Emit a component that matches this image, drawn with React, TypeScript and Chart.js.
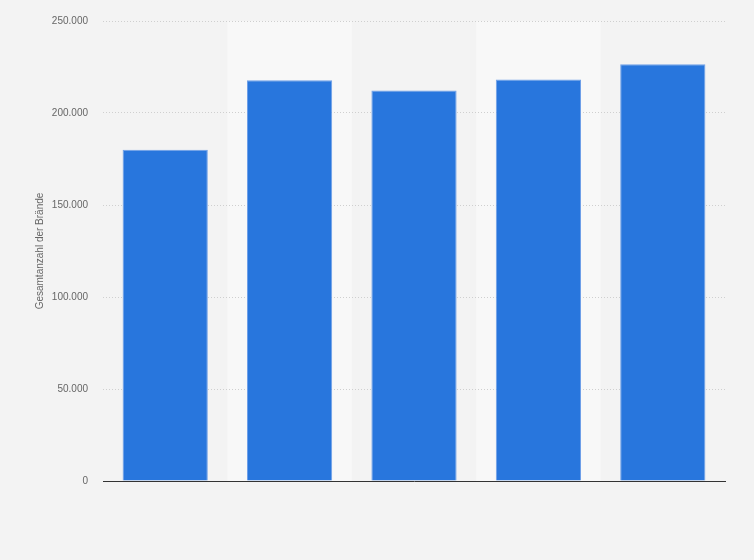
import { useEffect, useRef } from 'react'
import { Chart, registerables } from 'chart.js'

Chart.register(...registerables)

const categories = ['2017', '2018', '2019', '2020', '2021']
const fires = [180000, 217800, 212200, 218200, 226500]
const yTicks = [0, 50000, 100000, 150000, 200000, 250000]

const formatDe = (v: number) => String(Math.round(v)).replace(/\B(?=(\d{3})+(?!\d))/g, '.')

const bandsPlugin = {
  id: 'bands',
  beforeDraw(chart: Chart) {
    const { ctx, chartArea, width, height } = chart
    ctx.save()
    ctx.fillStyle = '#f3f3f3'
    ctx.fillRect(0, 0, width, height)
    const x = chart.scales.x
    const step = (chartArea.right - chartArea.left) / categories.length
    ctx.fillStyle = '#f8f8f8'
    categories.forEach((_, i) => {
      if (i % 2 === 1) {
        const cx = x.getPixelForValue(i)
        ctx.fillRect(cx - step / 2, chartArea.top, step, chartArea.bottom - chartArea.top)
      }
    })
    ctx.restore()
  },
}

export default function App() {
  const chartRef = useRef<HTMLCanvasElement>(null)
  const chartInstanceRef = useRef<Chart | null>(null)

  useEffect(() => {
    document.body.style.margin = '0'
    if (!chartRef.current) return
    const ctx = chartRef.current.getContext('2d')
    if (!ctx) return

    chartInstanceRef.current?.destroy()

    chartInstanceRef.current = new Chart(ctx, {
      type: 'bar',
      data: {
        labels: categories,
        datasets: [
          {
            data: fires,
            backgroundColor: '#2876dd',
            borderColor: '#6fa0e8',
            borderWidth: 1,
            barPercentage: 0.685,
            categoryPercentage: 1,
          },
        ],
      },
      options: {
        animation: false,
        responsive: true,
        maintainAspectRatio: false,
        layout: { padding: { left: 30, right: 29, top: 19, bottom: 79 } },
        plugins: {
          legend: { display: false },
          tooltip: { enabled: false },
        },
        scales: {
          x: {
            grid: { display: false },
            border: { display: true, color: '#333333', width: 1 },
            ticks: { display: false },
            afterFit(scale) {
              scale.height = 0
            },
          },
          y: {
            min: 0,
            max: 250000,
            afterBuildTicks(scale) {
              scale.ticks = yTicks.map((value) => ({ value }))
            },
            afterFit(scale) {
              scale.width = 73
            },
            border: { display: false, dash: [1, 2] },
            grid: {
              color: '#cfcfcf',
              drawTicks: false,
              lineWidth: 1,
            },
            ticks: {
              padding: 15,
              color: '#666666',
              font: { family: 'Liberation Sans, Arial, sans-serif', size: 10 },
              callback: (v) => formatDe(Number(v)),
            },
            title: {
              display: true,
              text: 'Gesamtanzahl der Brände',
              color: '#666666',
              font: { family: 'Liberation Sans, Arial, sans-serif', size: 10 },
              padding: { top: 4, bottom: 4 },
            },
          },
        },
      },
      plugins: [bandsPlugin],
    })

    return () => {
      chartInstanceRef.current?.destroy()
      chartInstanceRef.current = null
    }
  }, [])

  return (
    <div style={{ position: 'relative', width: 754, height: 560 }}>
      <canvas ref={chartRef}></canvas>
    </div>
  )
}
